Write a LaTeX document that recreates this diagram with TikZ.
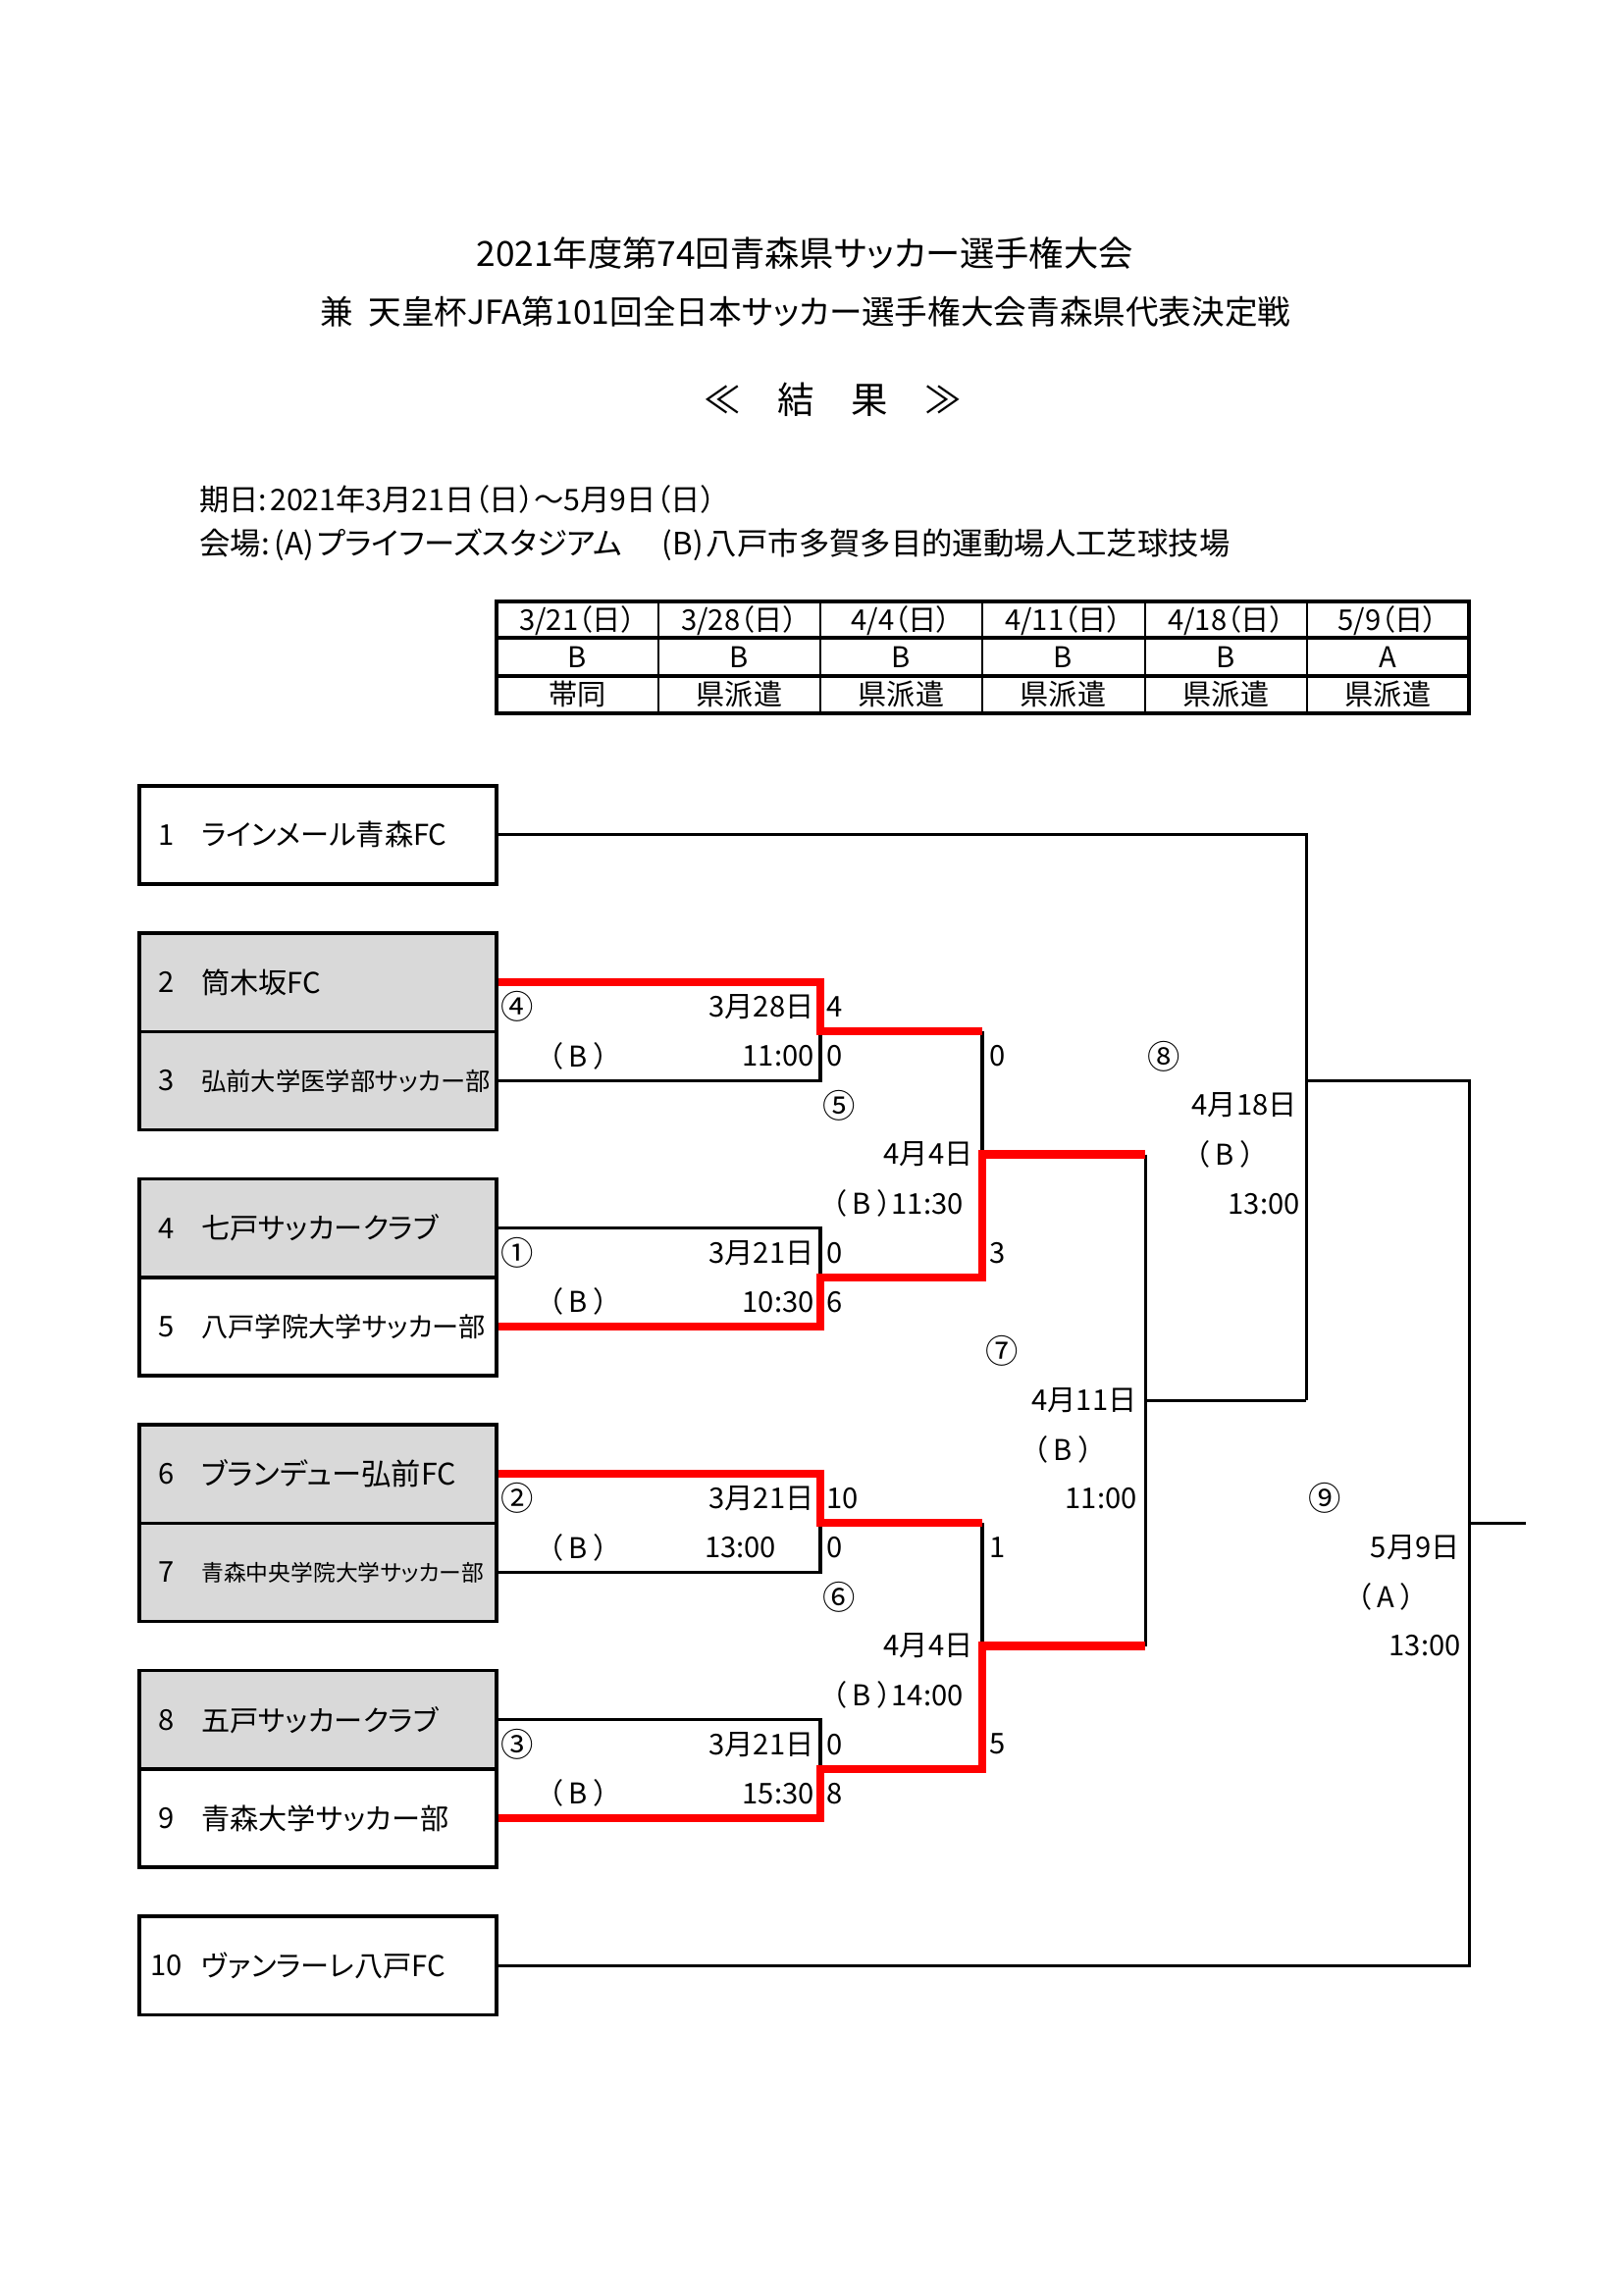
\documentclass[tikz,border=0pt]{standalone}
\usepackage{fontspec}
\setmainfont[RawFeature={+palt}]{Noto Sans CJK JP}
\definecolor{boxgray}{RGB}{217,217,217}
\definecolor{winred}{RGB}{255,0,0}
\newcommand\fsz[1]{\fontsize{#1}{#1}\selectfont}
\newcommand\pB[1]{（\hspace{0.22em}#1\hspace{0.22em}）}
\begin{document}
\begin{tikzpicture}[x=0.35785pt, y=-0.35785pt,
  teambox/.style={draw, line width=1.25pt, minimum width=130.97pt, minimum height=36.07pt, inner sep=0pt},
  lbl/.style={inner sep=0pt, font=\fsz{10.5}},
  cnum/.style={inner sep=0pt, font=\fsz{12}},
  tname/.style={inner sep=0pt, anchor=west, font=\fsz{10.5}},
  tnum/.style={inner sep=0pt, font=\fsz{10.5}},
  blk/.style={line width=1.1pt, line join=miter},
  win/.style={line width=3pt, color=winred, line join=miter},
  tab/.style={inner sep=0pt, font=\fsz{10.5}},
  hline/.style={line width=1.4pt},
  vline/.style={line width=0.8pt},
  info/.style={inner sep=0pt, anchor=west, text height=8pt, text depth=2pt}
]
\fill[white] (0,0) rectangle (1664,2353);
\useasboundingbox (0,0) rectangle (1664,2353);

% ---------- header ----------
\node[inner sep=0pt, font=\fsz{12.7}] (title1) at (825,260) {2021年度第74回青森県サッカー選手権大会};
\node[inner sep=0pt, font=\fsz{12.1}] (title2) at (826,320) {兼\hspace{0.45em}天皇杯JFA第101回全日本サッカー選手権大会青森県代表決定戦};
\node[inner sep=0pt, font=\fsz{13.5}] (title3) at (854,410) {≪　結　果　≫};
\node[info, font=\fsz{10.9}] (info1) at (204,515) {期日:\hspace{0.1em}2021年3月21日（日）～5月9日（日）};
\node[info, font=\fsz{11.3}] (info2) at (204,560) {会場:\hspace{0.15em}(A)\hspace{0.1em}プライフーズスタジアム\hspace{1.3em}(B)\hspace{0.1em}八戸市多賀多目的運動場人工芝球技場};

% ---------- schedule table ----------
\draw[vline] (675,617) -- (675,731) (841,617) -- (841,731) (1007,617) -- (1007,731)
  (1174,617) -- (1174,731) (1340,617) -- (1340,731);
\draw[hline] (509,654) -- (1506,654) (509,693) -- (1506,693);
\draw[hline] (509,617) rectangle (1506,731);
\node[tab] (d1) at (592,636) {3/21（日）};
\node[tab] (d2) at (758,636) {3/28（日）};
\node[tab] (d3) at (924,636) {4/4（日）};
\node[tab] (d4) at (1090,636) {4/11（日）};
\node[tab] (d5) at (1257,636) {4/18（日）};
\node[tab] (d6) at (1423,636) {5/9（日）};
\node[tab] (v1) at (592,674) {B};
\node[tab] (v2) at (758,674) {B};
\node[tab] (v3) at (924,674) {B};
\node[tab] (v4) at (1090,674) {B};
\node[tab] (v5) at (1257,674) {B};
\node[tab] (v6) at (1423,674) {A};
\node[tab] (r1) at (592,712) {帯同};
\node[tab] (r2) at (758,712) {県派遣};
\node[tab] (r3) at (924,712) {県派遣};
\node[tab] (r4) at (1090,712) {県派遣};
\node[tab] (r5) at (1257,712) {県派遣};
\node[tab] (r6) at (1423,712) {県派遣};

% ---------- team boxes ----------
\node[teambox] (T1) at (326,856) {};
\node[teambox, fill=boxgray] (T2) at (326,1007.2) {};
\node[teambox, fill=boxgray] (T3) at (326,1108) {};
\node[teambox, fill=boxgray] (T4) at (326,1259.2) {};
\node[teambox] (T5) at (326,1360) {};
\node[teambox, fill=boxgray] (T6) at (326,1511.2) {};
\node[teambox, fill=boxgray] (T7) at (326,1612) {};
\node[teambox, fill=boxgray] (T8) at (326,1763.2) {};
\node[teambox] (T9) at (326,1864) {};
\node[teambox] (T10) at (326,2015.2) {};

\node[tnum] (N1) at (171,856) {1};
\node[tnum] (N2) at (171,1007.2) {2};
\node[tnum] (N3) at (171,1108) {3};
\node[tnum] (N4) at (171,1259.2) {4};
\node[tnum] (N5) at (171,1360) {5};
\node[tnum] (N6) at (171,1511.2) {6};
\node[tnum] (N7) at (171,1612) {7};
\node[tnum] (N8) at (171,1763.2) {8};
\node[tnum] (N9) at (171,1864) {9};
\node[tnum] (N10) at (171,2015.2) {10};

\node[tname] (M1) at (206,856) {ラインメール青森FC};
\node[tname] (M2) at (206,1007.2) {筒木坂FC};
\node[tname, font=\fsz{9.1}] (M3) at (206,1108) {弘前大学医学部サッカー部};
\node[tname] (M4) at (206,1259.2) {七戸サッカークラブ};
\node[tname, font=\fsz{9.8}] (M5) at (206,1360) {八戸学院大学サッカー部};
\node[tname, font=\fsz{10.9}] (M6) at (206,1511.2) {ブランデュー弘前FC};
\node[tname, font=\fsz{8.2}] (M7) at (206,1612) {青森中央学院大学サッカー部};
\node[tname] (M8) at (206,1763.2) {五戸サッカークラブ};
\node[tname] (M9) at (206,1864) {青森大学サッカー部};
\node[tname] (M10) at (206,2015.2) {ヴァンラーレ八戸FC};

% ---------- bracket: black lines ----------
\draw[blk] (T3.east) -- (841,1108) -- (841,1057.6);
\draw[blk] (1007,1057.6) -- (1007,1183.6);
\draw[blk] (T4.east) -- (841,1259.2) -- (841,1309.6);
\draw[blk] (T7.east) -- (841,1612) -- (841,1561.6);
\draw[blk] (1007,1561.6) -- (1007,1687.6);
\draw[blk] (T8.east) -- (841,1763.2) -- (841,1813.6);
\draw[blk] (1174,1183.6) -- (1174,1687.6);
\draw[blk] (1174,1435.6) -- (1339,1435.6);
\draw[blk] (T1.east) -- (1339,856) -- (1339,1435.6);
\draw[blk] (1339,1108) -- (1506,1108) -- (1506,2015.2) -- (T10.east);
\draw[blk] (1506,1561.6) -- (1564,1561.6);

% ---------- bracket: winners (red) ----------
\draw[win] (T2.east) -- (841,1007.2) -- (841,1057.6) -- (1007,1057.6);
\draw[win] (T5.east) -- (841,1360) -- (841,1309.6) -- (1007,1309.6) -- (1007,1183.6) -- (1174,1183.6);
\draw[win] (T6.east) -- (841,1511.2) -- (841,1561.6) -- (1007,1561.6);
\draw[win] (T9.east) -- (841,1864) -- (841,1813.6) -- (1007,1813.6) -- (1007,1687.6) -- (1174,1687.6);

% ---------- match 4 ----------
\node[cnum, anchor=west] (c4) at (513,1032.4) {④};
\node[lbl, anchor=east] (c4d) at (835,1032.4) {3月28日};
\node[lbl, anchor=west] (c4s1) at (847,1032.4) {4};
\node[lbl] (c4v) at (593,1082.8) {\pB{B}};
\node[lbl, anchor=east] (c4t) at (835,1082.8) {11:00};
\node[lbl, anchor=west] (c4s2) at (847,1082.8) {0};
% ---------- match 1 ----------
\node[cnum, anchor=west] (c1) at (513,1284.4) {①};
\node[lbl, anchor=east] (c1d) at (835,1284.4) {3月21日};
\node[lbl, anchor=west] (c1s1) at (847,1284.4) {0};
\node[lbl] (c1v) at (593,1334.8) {\pB{B}};
\node[lbl, anchor=east] (c1t) at (835,1334.8) {10:30};
\node[lbl, anchor=west] (c1s2) at (847,1334.8) {6};
% ---------- match 2 ----------
\node[cnum, anchor=west] (c2) at (513,1536.4) {②};
\node[lbl, anchor=east] (c2d) at (835,1536.4) {3月21日};
\node[lbl, anchor=west] (c2s1) at (847,1536.4) {10};
\node[lbl] (c2v) at (593,1586.8) {\pB{B}};
\node[lbl] (c2t) at (759,1586.8) {13:00};
\node[lbl, anchor=west] (c2s2) at (847,1586.8) {0};
% ---------- match 3 ----------
\node[cnum, anchor=west] (c3) at (513,1788.4) {③};
\node[lbl, anchor=east] (c3d) at (835,1788.4) {3月21日};
\node[lbl, anchor=west] (c3s1) at (847,1788.4) {0};
\node[lbl] (c3v) at (593,1838.8) {\pB{B}};
\node[lbl, anchor=east] (c3t) at (835,1838.8) {15:30};
\node[lbl, anchor=west] (c3s2) at (847,1838.8) {8};
% ---------- match 5 ----------
\node[cnum] (c5) at (860,1133.2) {⑤};
\node[lbl, anchor=east] (c5d) at (998,1183.6) {4月4日};
\node[lbl, anchor=east] (c5t) at (988,1234) {\pB{B}11:30};
\node[lbl, anchor=west] (c5s1) at (1014,1082.8) {0};
\node[lbl, anchor=west] (c5s2) at (1014,1284.4) {3};
% ---------- match 6 ----------
\node[cnum] (c6) at (860,1637.2) {⑥};
\node[lbl, anchor=east] (c6d) at (998,1687.6) {4月4日};
\node[lbl, anchor=east] (c6t) at (988,1738) {\pB{B}14:00};
\node[lbl, anchor=west] (c6s1) at (1014,1586.8) {1};
\node[lbl, anchor=west] (c6s2) at (1014,1788.4) {5};
% ---------- match 7 ----------
\node[cnum] (c7) at (1027,1385.2) {⑦};
\node[lbl, anchor=east] (c7d) at (1166,1435.6) {4月11日};
\node[lbl] (c7v) at (1090,1486) {\pB{B}};
\node[lbl, anchor=east] (c7t) at (1166,1536.4) {11:00};
% ---------- match 8 ----------
\node[cnum] (c8) at (1193,1082.8) {⑧};
\node[lbl, anchor=east] (c8d) at (1330,1133.2) {4月18日};
\node[lbl] (c8v) at (1256,1183.6) {\pB{B}};
\node[lbl, anchor=east] (c8t) at (1333,1234) {13:00};
% ---------- match 9 ----------
\node[cnum] (c9) at (1358,1536.4) {⑨};
\node[lbl, anchor=east] (c9d) at (1497,1586.8) {5月9日};
\node[lbl] (c9v) at (1421,1637.2) {\pB{A}};
\node[lbl, anchor=east] (c9t) at (1498,1687.6) {13:00};
\end{tikzpicture}
\end{document}
